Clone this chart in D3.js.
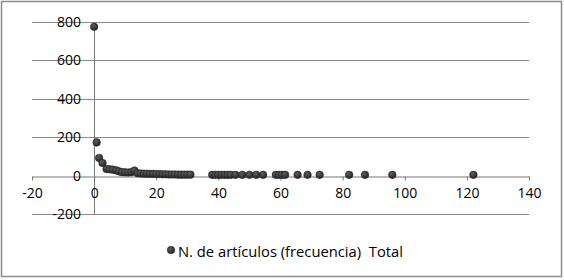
<!DOCTYPE html>
<html>
<head>
<meta charset="utf-8">
<script src="https://cdn.jsdelivr.net/npm/d3@7"></script>
<style>
  body { margin: 0; background: #fff; }
  text { font-family: "Open Sans", "Liberation Sans", Arial, sans-serif; fill: #000; }
</style>
</head>
<body>
<div id="chart"></div>
<script>
"use strict";
// frecuencia (x) y número de artículos (y)
var xValues = [0, 0.8, 1.6, 2.7, 4, 5, 6, 7, 8, 9, 10, 11, 12, 13, 14, 15, 16, 17, 18, 19, 20,
    21, 22, 23, 24, 25, 26, 27, 28, 29, 30, 31, 38, 39, 40, 41, 42, 43, 44, 45.5, 47.7, 50,
    52.2, 54.4, 58.5, 59.5, 60.5, 61.5, 65.5, 68.7, 72.6, 82.1, 87.2, 96, 122.1];
var yValues = [775, 173, 92, 66, 34, 33, 31, 28, 22, 18, 17, 16, 18, 26, 12, 11, 10, 10, 9, 9, 8,
    8, 7, 7, 6, 6, 6, 5, 5, 5, 5, 5, 4, 4, 4, 4, 4, 4, 4, 4, 4, 4,
    4, 4, 4, 4, 4, 4, 4, 4, 4, 4, 4, 4, 4];
var xTicks = [-20, 0, 20, 40, 60, 80, 100, 120, 140];
var yTicks = [-200, 0, 200, 400, 600, 800];
var legendLabel = "N. de artículos (frecuencia)  Total";

var width = 564, height = 280;
var svg = d3.select("#chart").append("svg")
    .attr("width", width)
    .attr("height", height);

svg.append("rect")
    .attr("x", 1.5).attr("y", 1.5)
    .attr("width", 560).attr("height", 275)
    .style("fill", "#fff")
    .style("stroke", "#8c8c8c")
    .style("stroke-width", 1.5);

var x = d3.scaleLinear().domain([-20, 140]).range([32, 529]);
var y = d3.scaleLinear().domain([-200, 800]).range([214, 22]);

// gridlines
svg.append("g")
    .selectAll("line")
    .data(yTicks.filter(function (t) { return t !== 0; }))
    .enter().append("line")
    .attr("x1", x(-20)).attr("x2", x(140))
    .attr("y1", function (t) { return Math.round(y(t)) + 0.5; })
    .attr("y2", function (t) { return Math.round(y(t)) + 0.5; })
    .style("stroke", "#8a8a8a")
    .style("stroke-width", 1);

// y axis line at x = 0
svg.append("line")
    .attr("x1", Math.round(x(0)) + 0.5).attr("x2", Math.round(x(0)) + 0.5)
    .attr("y1", y(800)).attr("y2", y(-200))
    .style("stroke", "#777")
    .style("stroke-width", 1);

// x axis at y = 0
var y0 = Math.round(y(0)) + 0.5;
var xAxis = d3.axisBottom(x).tickValues(xTicks).tickSize(4).tickSizeOuter(0).tickPadding(8)
    .tickFormat(function (t) { return String(t); });
var gx = svg.append("g").attr("transform", "translate(0," + y0 + ")").call(xAxis);
gx.select(".domain").style("stroke", "#777");
gx.selectAll(".tick line").style("stroke", "#777");
gx.selectAll(".tick text")
    .style("font-size", "14px")
    .style("font-family", "'Open Sans', 'Liberation Sans', Arial, sans-serif")
    .attr("fill", "#000");

// y labels
svg.append("g")
    .selectAll("text")
    .data(yTicks)
    .enter().append("text")
    .attr("x", 81)
    .attr("y", function (t) { return y(t); })
    .attr("dy", "0.36em")
    .attr("text-anchor", "end")
    .style("font-size", "14px")
    .text(function (t) { return String(t); });

// points
var defs = svg.append("defs");
var grad = defs.append("radialGradient").attr("id", "dot")
    .attr("cx", "40%").attr("cy", "35%").attr("r", "65%");
grad.append("stop").attr("offset", "0%").attr("stop-color", "#5e5e5e");
grad.append("stop").attr("offset", "100%").attr("stop-color", "#222");

var points = xValues.map(function (v, i) { return { x: v, y: yValues[i] }; });
svg.append("g")
    .selectAll("circle")
    .data(points)
    .enter().append("circle")
    .attr("cx", function (d) { return x(d.x); })
    .attr("cy", function (d) { return y(d.y); })
    .attr("r", 3.8)
    .style("fill", "url(#dot)")
    .style("stroke", "#222")
    .style("stroke-width", 0.5);

// legend
var legend = svg.append("g");
legend.append("circle")
    .attr("cx", 171).attr("cy", 250).attr("r", 3.8)
    .style("fill", "url(#dot)")
    .style("stroke", "#222")
    .style("stroke-width", 0.5);
legend.append("text")
    .attr("x", 178).attr("y", 257)
    .attr("textLength", 225)
    .attr("lengthAdjust", "spacingAndGlyphs")
    .style("font-size", "14px")
    .style("white-space", "pre")
    .attr("xml:space", "preserve")
    .text(legendLabel);
</script>
</body>
</html>
